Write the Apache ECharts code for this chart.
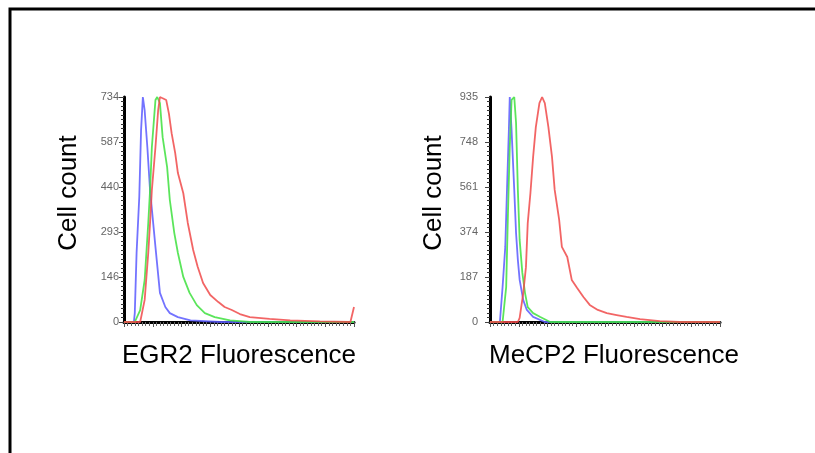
<!DOCTYPE html>
<html>
<head>
<meta charset="utf-8">
<style>
  html, body { margin: 0; padding: 0; background: #fff; }
  #chart { width: 815px; height: 453px; }
</style>
<script src="https://cdn.jsdelivr.net/npm/echarts@6/dist/echarts.min.js"></script>
</head>
<body>
<div id="chart"></div>
<script>
// channel (0-256) / cell count pairs
const egr2Blue = [[0, 0], [11, 0], [12, 29], [14, 225], [17, 408], [19, 626], [21, 734], [23, 690], [26, 570],
  [29, 430], [35, 245], [40, 95], [46, 49], [51, 29], [60, 16], [74, 5], [107, 0], [256, 0]];
const egr2Green = [[0, 0], [12, 0], [18, 39], [23, 137], [27, 323], [29, 430], [31, 570], [35, 724], [37, 734],
  [40, 714], [43, 603], [48, 505], [51, 398], [56, 290], [60, 225], [66, 147], [73, 95], [81, 55], [90, 29],
  [101, 16], [118, 5], [140, 0], [256, 0]];
const egr2Red = [[0, 0], [18, 0], [23, 72], [27, 225], [29, 323], [31, 430], [35, 570], [38, 690], [40, 734],
  [43, 730], [47, 724], [50, 680], [53, 616], [57, 551], [60, 486], [66, 420], [71, 323], [77, 235], [82, 180],
  [88, 127], [96, 88], [105, 65], [112, 49], [120, 39], [129, 26], [140, 16], [162, 10], [185, 5], [218, 2],
  [252, 0], [254, 0], [256, 49]];

const mecp2Blue = [[0, 0], [11, 0], [14, 145], [17, 312], [19, 561], [21, 798], [22, 935], [24, 798], [27, 549],
  [29, 370], [31, 258], [33, 175], [37, 91], [41, 50], [48, 21], [61, 0], [256, 0]];
const mecp2Green = [[0, 0], [14, 0], [18, 145], [20, 453], [22, 727], [24, 923], [27, 935], [29, 827], [31, 549],
  [33, 341], [36, 204], [39, 120], [42, 62], [48, 37], [56, 21], [67, 0], [256, 0]];
const mecp2Red = [[0, 0], [31, 0], [33, 17], [37, 120], [40, 228], [42, 411], [45, 536], [48, 686], [51, 810],
  [55, 910], [58, 935], [61, 910], [65, 810], [69, 686], [72, 549], [77, 424], [80, 312], [86, 270], [91, 175],
  [97, 141], [104, 104], [111, 71], [120, 50], [130, 37], [141, 29], [152, 21], [167, 12], [189, 4], [211, 0],
  [256, 0]];

const egr2Max = 734;
const mecp2Max = 935;

const blue = "#5b5bff";
const green = "#3ee03e";
const red = "#f04a4a";

function xAxisOf(idx) {
  return {
    type: "value",
    gridIndex: idx,
    min: 0,
    max: 256,
    interval: 32,
    axisLine: { lineStyle: { color: "#000", width: 3 } },
    axisTick: { length: 5, lineStyle: { color: "#555" } },
    minorTick: { show: true, splitNumber: 8, length: 4, lineStyle: { color: "#666" } },
    axisLabel: { show: false },
    splitLine: { show: false },
  };
}

function yAxisOf(idx, max, margin) {
  return {
    type: "value",
    gridIndex: idx,
    min: 0,
    max: max,
    interval: max / 5,
    axisLine: { show: true, lineStyle: { color: "#000", width: 3 } },
    axisTick: { show: true, length: 5, lineStyle: { color: "#444" } },
    minorTick: { show: true, splitNumber: 10, length: 3, lineStyle: { color: "#333" } },
    axisLabel: {
      margin: margin,
      color: "#666",
      fontSize: 11,
      fontFamily: "Liberation Sans",
      formatter: (v) => String(Math.floor(v + 1e-6)),
    },
    splitLine: { show: false },
  };
}

function curve(data, color, idx) {
  return {
    type: "line",
    xAxisIndex: idx,
    yAxisIndex: idx,
    data: data,
    showSymbol: false,
    lineStyle: { color: color, width: 1.8, opacity: 0.85 },
    animation: false,
  };
}

const titleFont = { fontSize: 26, fontFamily: "Liberation Sans", fill: "#000" };

const option = {
  animation: false,
  grid: [
    { left: 124, top: 97, width: 230, height: 225 },
    { left: 490, top: 97, width: 230, height: 225 },
  ],
  xAxis: [xAxisOf(0), xAxisOf(1)],
  yAxis: [yAxisOf(0, egr2Max, 5), yAxisOf(1, mecp2Max, 12)],
  series: [
    curve(egr2Blue, blue, 0),
    curve(egr2Green, green, 0),
    curve(egr2Red, red, 0),
    curve(mecp2Blue, blue, 1),
    curve(mecp2Green, green, 1),
    curve(mecp2Red, red, 1),
  ],
  graphic: [
    // frame: top and left edge only
    {
      type: "polyline",
      shape: { points: [[10, 453], [10, 9], [815, 9]] },
      style: { stroke: "#000", lineWidth: 3, fill: null },
    },
    { type: "text", x: 239, y: 356, style: Object.assign({ text: "EGR2 Fluorescence", align: "center", verticalAlign: "middle" }, titleFont) },
    { type: "text", x: 614, y: 356, style: Object.assign({ text: "MeCP2 Fluorescence", align: "center", verticalAlign: "middle" }, titleFont) },
    { type: "text", x: 69, y: 193, rotation: Math.PI / 2, style: Object.assign({ text: "Cell count", align: "center", verticalAlign: "middle" }, titleFont) },
    { type: "text", x: 434, y: 193, rotation: Math.PI / 2, style: Object.assign({ text: "Cell count", align: "center", verticalAlign: "middle" }, titleFont) },
  ],
};

const myChart = echarts.init(document.getElementById("chart"));
myChart.setOption(option);
</script>
</body>
</html>
